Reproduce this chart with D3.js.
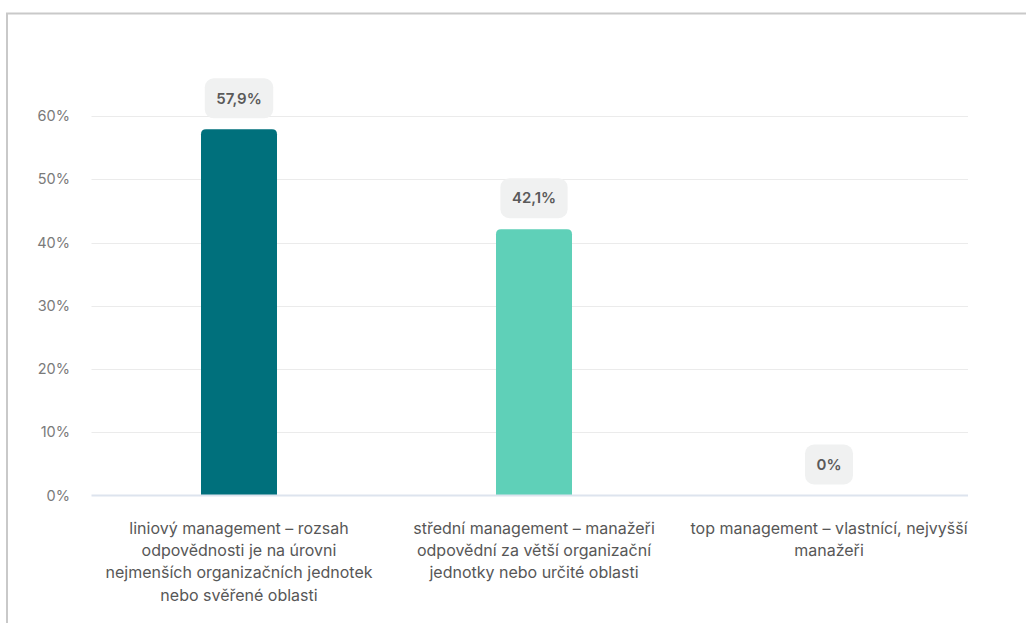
<!DOCTYPE html>
<html>
<head>
<meta charset="utf-8">
<script src="https://cdn.jsdelivr.net/npm/d3@7/dist/d3.min.js"></script>
<style>
  html, body { margin: 0; padding: 0; background: #fff; }
  svg { display: block; font-family: Inter, "Noto Sans", sans-serif; }
</style>
</head>
<body>
<svg id="chart" width="1026" height="623"></svg>
<script>
// Management level of respondents (share of answers, %)
const categories = [
  "liniový management – rozsah\nodpovědnosti je na úrovni\nnejmenších organizačních jednotek\nnebo svěřené oblasti",
  "střední management – manažeři\nodpovědní za větší organizační\njednotky nebo určité oblasti",
  "top management – vlastnící, nejvyšší\nmanažeři"
];
const values = [57.9, 42.1, 0];
const valueLabels = ["57,9%", "42,1%", "0%"];
const barColors = ["#00707c", "#5fd0b8", "#5fd0b8"];
const yTicks = [0, 10, 20, 30, 40, 50, 60];

const svg = d3.select("#chart");

// Card frame (top and left edges)
svg.append("line").attr("x1", 6).attr("x2", 1026).attr("y1", 13.5).attr("y2", 13.5)
  .attr("stroke", "#c9c9c9").attr("stroke-width", 2);
svg.append("line").attr("x1", 7).attr("x2", 7).attr("y1", 13).attr("y2", 623)
  .attr("stroke", "#c9c9c9").attr("stroke-width", 2);

const plot = { left: 91.5, right: 976.5, top: 116, bottom: 495.5 };
const clipRight = 968;

svg.append("defs").append("clipPath").attr("id", "plotClip")
  .append("rect").attr("x", 0).attr("y", 0).attr("width", clipRight).attr("height", 623);

const g = svg.append("g").attr("clip-path", "url(#plotClip)");

const x = d3.scaleBand().domain(d3.range(categories.length))
  .range([plot.left, plot.right]).paddingInner(0).paddingOuter(0);
const y = d3.scaleLinear().domain([0, 60]).range([plot.bottom, plot.top]);

// Gridlines
g.selectAll("line.grid").data(yTicks.filter(d => d > 0)).join("line")
  .attr("class", "grid")
  .attr("x1", plot.left).attr("x2", plot.right)
  .attr("y1", d => Math.round(y(d)) + 0.5).attr("y2", d => Math.round(y(d)) + 0.5)
  .attr("stroke", "#ebebeb").attr("stroke-width", 1);

// Y axis labels
const yAxis = d3.axisLeft(y).tickValues(yTicks).tickFormat(d => d + "%").tickSize(0).tickPadding(0);
const yg = svg.append("g").attr("transform", "translate(70,0)").call(yAxis);
yg.select(".domain").remove();
yg.selectAll("text").attr("font-size", 14.5).attr("fill", "#7a7a7a")
  .attr("font-family", "Inter, sans-serif");

// Bars with rounded top corners
const barW = 76, r = 5;
function barPath(i, v) {
  const cx = x(i) + x.bandwidth() / 2;
  const x0 = cx - barW / 2, x1 = cx + barW / 2;
  const y0 = y(v), yb = y(0);
  if (yb - y0 < 0.5) return "";
  const rr = Math.min(r, (yb - y0));
  return `M${x0},${yb}V${y0 + rr}Q${x0},${y0} ${x0 + rr},${y0}H${x1 - rr}Q${x1},${y0} ${x1},${y0 + rr}V${yb}Z`;
}
g.selectAll("path.bar").data(values).join("path")
  .attr("class", "bar")
  .attr("d", (d, i) => barPath(i, d))
  .attr("fill", (d, i) => barColors[i]);

// Baseline
g.append("line").attr("x1", plot.left).attr("x2", plot.right)
  .attr("y1", y(0)).attr("y2", y(0))
  .attr("stroke", "#dde4ee").attr("stroke-width", 2);

// Value badges above bars
const badges = g.selectAll("g.badge").data(values).join("g").attr("class", "badge")
  .attr("transform", (d, i) => `translate(${x(i) + x.bandwidth() / 2},${y(d) - 11})`);
badges.each(function(d, i) {
  const b = d3.select(this);
  const t = b.append("text").text(valueLabels[i])
    .attr("text-anchor", "middle").attr("y", -20).attr("dy", "0.35em")
    .attr("font-size", 15).attr("font-weight", 600).attr("fill", "#5a5a5a");
  const w = t.node().getComputedTextLength() + 23;
  b.insert("rect", "text")
    .attr("x", -w / 2).attr("y", -40).attr("width", w).attr("height", 40)
    .attr("rx", 9).attr("fill", "#f0f1f1");
});

// Category labels
g.selectAll("text.cat").data(categories).join("text")
  .attr("class", "cat")
  .attr("text-anchor", "middle")
  .attr("font-size", 16).attr("fill", "#575757")
  .attr("transform", (d, i) => `translate(${x(i) + x.bandwidth() / 2},534)`)
  .selectAll("tspan").data(d => d.split("\n")).join("tspan")
  .attr("x", 0).attr("y", (d, j) => j * 22.2)
  .text(d => d);
</script>
</body>
</html>
